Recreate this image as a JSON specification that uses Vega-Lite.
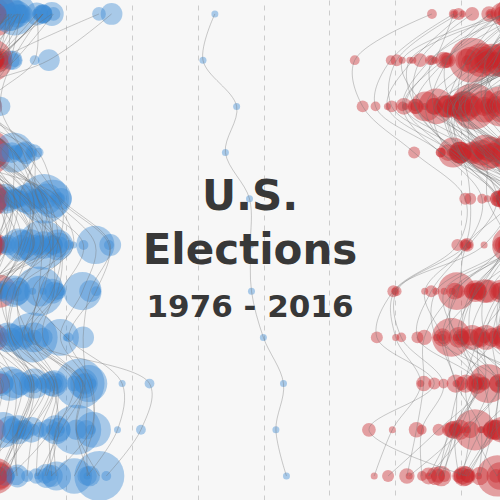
{
  "$schema": "https://vega.github.io/schema/vega-lite/v6.json",
  "width": 500,
  "height": 500,
  "autosize": "none",
  "padding": 0,
  "background": "#f7f7f7",
  "config": {"view": {"stroke": null}},
  "title": {
    "text": ["U.S.", "Elections"],
    "subtitle": "1976 - 2016",
    "orient": "top",
    "anchor": "middle",
    "frame": "group",
    "offset": -324,
    "font": "DejaVu Sans",
    "fontSize": 42,
    "fontWeight": "bold",
    "color": "#383838",
    "lineHeight": 54,
    "subtitleFont": "DejaVu Sans",
    "subtitleFontSize": 31,
    "subtitleFontWeight": "bold",
    "subtitleColor": "#383838",
    "subtitlePadding": 20
  },
  "data": {
    "values": [
      {"s":"AL","y":1976,"d":13.1,"ev":9},{"s":"AL","y":1980,"d":-1.3,"ev":9},{"s":"AL","y":1984,"d":-22.3,"ev":9},{"s":"AL","y":1988,"d":-19.3,"ev":9},{"s":"AL","y":1992,"d":-6.8,"ev":9},{"s":"AL","y":1996,"d":-7.0,"ev":9},{"s":"AL","y":2000,"d":-14.9,"ev":9},{"s":"AL","y":2004,"d":-25.6,"ev":9},{"s":"AL","y":2008,"d":-21.6,"ev":9},{"s":"AL","y":2012,"d":-22.2,"ev":9},{"s":"AL","y":2016,"d":-27.7,"ev":9},
      {"s":"AK","y":1976,"d":-22.2,"ev":3},{"s":"AK","y":1980,"d":-27.9,"ev":3},{"s":"AK","y":1984,"d":-36.8,"ev":3},{"s":"AK","y":1988,"d":-23.3,"ev":3},{"s":"AK","y":1992,"d":-9.2,"ev":3},{"s":"AK","y":1996,"d":-17.5,"ev":3},{"s":"AK","y":2000,"d":-31.0,"ev":3},{"s":"AK","y":2004,"d":-25.6,"ev":3},{"s":"AK","y":2008,"d":-21.5,"ev":3},{"s":"AK","y":2012,"d":-14.0,"ev":3},{"s":"AK","y":2016,"d":-14.7,"ev":3},
      {"s":"AZ","y":1976,"d":-16.6,"ev":6},{"s":"AZ","y":1980,"d":-32.4,"ev":6},{"s":"AZ","y":1984,"d":-33.9,"ev":7},{"s":"AZ","y":1988,"d":-21.2,"ev":7},{"s":"AZ","y":1992,"d":-2.0,"ev":8},{"s":"AZ","y":1996,"d":2.2,"ev":8},{"s":"AZ","y":2000,"d":-6.3,"ev":8},{"s":"AZ","y":2004,"d":-10.5,"ev":10},{"s":"AZ","y":2008,"d":-8.5,"ev":10},{"s":"AZ","y":2012,"d":-9.1,"ev":11},{"s":"AZ","y":2016,"d":-3.5,"ev":11},
      {"s":"AR","y":1976,"d":30.0,"ev":6},{"s":"AR","y":1980,"d":-0.6,"ev":6},{"s":"AR","y":1984,"d":-22.2,"ev":6},{"s":"AR","y":1988,"d":-14.2,"ev":6},{"s":"AR","y":1992,"d":17.7,"ev":6},{"s":"AR","y":1996,"d":16.9,"ev":6},{"s":"AR","y":2000,"d":-5.4,"ev":6},{"s":"AR","y":2004,"d":-9.8,"ev":6},{"s":"AR","y":2008,"d":-19.9,"ev":6},{"s":"AR","y":2012,"d":-23.7,"ev":6},{"s":"AR","y":2016,"d":-26.9,"ev":6},
      {"s":"CA","y":1976,"d":-1.8,"ev":45},{"s":"CA","y":1980,"d":-16.8,"ev":45},{"s":"CA","y":1984,"d":-16.2,"ev":47},{"s":"CA","y":1988,"d":-3.6,"ev":47},{"s":"CA","y":1992,"d":13.4,"ev":54},{"s":"CA","y":1996,"d":12.9,"ev":54},{"s":"CA","y":2000,"d":11.8,"ev":54},{"s":"CA","y":2004,"d":9.9,"ev":55},{"s":"CA","y":2008,"d":24.1,"ev":55},{"s":"CA","y":2012,"d":23.1,"ev":55},{"s":"CA","y":2016,"d":30.1,"ev":55},
      {"s":"CO","y":1976,"d":-11.5,"ev":7},{"s":"CO","y":1980,"d":-24.0,"ev":7},{"s":"CO","y":1984,"d":-28.3,"ev":8},{"s":"CO","y":1988,"d":-7.8,"ev":8},{"s":"CO","y":1992,"d":4.3,"ev":8},{"s":"CO","y":1996,"d":-1.4,"ev":8},{"s":"CO","y":2000,"d":-8.4,"ev":8},{"s":"CO","y":2004,"d":-4.7,"ev":9},{"s":"CO","y":2008,"d":9.0,"ev":9},{"s":"CO","y":2012,"d":5.4,"ev":9},{"s":"CO","y":2016,"d":4.9,"ev":9},
      {"s":"CT","y":1976,"d":-5.2,"ev":8},{"s":"CT","y":1980,"d":-9.6,"ev":8},{"s":"CT","y":1984,"d":-21.9,"ev":8},{"s":"CT","y":1988,"d":-5.1,"ev":8},{"s":"CT","y":1992,"d":6.4,"ev":8},{"s":"CT","y":1996,"d":18.1,"ev":8},{"s":"CT","y":2000,"d":17.5,"ev":8},{"s":"CT","y":2004,"d":10.4,"ev":7},{"s":"CT","y":2008,"d":22.4,"ev":7},{"s":"CT","y":2012,"d":17.3,"ev":7},{"s":"CT","y":2016,"d":13.6,"ev":7},
      {"s":"DE","y":1976,"d":5.4,"ev":3},{"s":"DE","y":1980,"d":-2.3,"ev":3},{"s":"DE","y":1984,"d":-19.9,"ev":3},{"s":"DE","y":1988,"d":-12.4,"ev":3},{"s":"DE","y":1992,"d":8.2,"ev":3},{"s":"DE","y":1996,"d":15.2,"ev":3},{"s":"DE","y":2000,"d":13.1,"ev":3},{"s":"DE","y":2004,"d":7.6,"ev":3},{"s":"DE","y":2008,"d":25.0,"ev":3},{"s":"DE","y":2012,"d":18.6,"ev":3},{"s":"DE","y":2016,"d":11.4,"ev":3},
      {"s":"DC","y":1976,"d":65.1,"ev":3},{"s":"DC","y":1980,"d":61.5,"ev":3},{"s":"DC","y":1984,"d":71.7,"ev":3},{"s":"DC","y":1988,"d":68.3,"ev":3},{"s":"DC","y":1992,"d":75.6,"ev":3},{"s":"DC","y":1996,"d":75.9,"ev":3},{"s":"DC","y":2000,"d":76.2,"ev":3},{"s":"DC","y":2004,"d":79.8,"ev":3},{"s":"DC","y":2008,"d":85.9,"ev":3},{"s":"DC","y":2012,"d":83.6,"ev":3},{"s":"DC","y":2016,"d":86.8,"ev":3},
      {"s":"FL","y":1976,"d":5.3,"ev":17},{"s":"FL","y":1980,"d":-17.0,"ev":17},{"s":"FL","y":1984,"d":-30.7,"ev":21},{"s":"FL","y":1988,"d":-22.4,"ev":21},{"s":"FL","y":1992,"d":-1.9,"ev":25},{"s":"FL","y":1996,"d":5.7,"ev":25},{"s":"FL","y":2000,"d":-0.01,"ev":25},{"s":"FL","y":2004,"d":-5.0,"ev":27},{"s":"FL","y":2008,"d":2.8,"ev":27},{"s":"FL","y":2012,"d":0.9,"ev":29},{"s":"FL","y":2016,"d":-1.2,"ev":29},
      {"s":"GA","y":1976,"d":33.8,"ev":12},{"s":"GA","y":1980,"d":14.8,"ev":12},{"s":"GA","y":1984,"d":-20.4,"ev":12},{"s":"GA","y":1988,"d":-20.2,"ev":12},{"s":"GA","y":1992,"d":0.6,"ev":13},{"s":"GA","y":1996,"d":-1.2,"ev":13},{"s":"GA","y":2000,"d":-11.7,"ev":13},{"s":"GA","y":2004,"d":-16.6,"ev":15},{"s":"GA","y":2008,"d":-5.2,"ev":15},{"s":"GA","y":2012,"d":-7.8,"ev":16},{"s":"GA","y":2016,"d":-5.1,"ev":16},
      {"s":"HI","y":1976,"d":2.5,"ev":4},{"s":"HI","y":1980,"d":1.9,"ev":4},{"s":"HI","y":1984,"d":-11.3,"ev":4},{"s":"HI","y":1988,"d":9.5,"ev":4},{"s":"HI","y":1992,"d":11.4,"ev":4},{"s":"HI","y":1996,"d":25.3,"ev":4},{"s":"HI","y":2000,"d":18.3,"ev":4},{"s":"HI","y":2004,"d":8.7,"ev":4},{"s":"HI","y":2008,"d":45.3,"ev":4},{"s":"HI","y":2012,"d":42.7,"ev":4},{"s":"HI","y":2016,"d":32.2,"ev":4},
      {"s":"ID","y":1976,"d":-22.2,"ev":4},{"s":"ID","y":1980,"d":-41.3,"ev":4},{"s":"ID","y":1984,"d":-45.9,"ev":4},{"s":"ID","y":1988,"d":-26.1,"ev":4},{"s":"ID","y":1992,"d":-13.6,"ev":4},{"s":"ID","y":1996,"d":-18.5,"ev":4},{"s":"ID","y":2000,"d":-39.5,"ev":4},{"s":"ID","y":2004,"d":-38.1,"ev":4},{"s":"ID","y":2008,"d":-25.3,"ev":4},{"s":"ID","y":2012,"d":-31.9,"ev":4},{"s":"ID","y":2016,"d":-31.8,"ev":4},
      {"s":"IL","y":1976,"d":-2.0,"ev":26},{"s":"IL","y":1980,"d":-7.9,"ev":26},{"s":"IL","y":1984,"d":-12.9,"ev":24},{"s":"IL","y":1988,"d":-2.1,"ev":24},{"s":"IL","y":1992,"d":14.2,"ev":22},{"s":"IL","y":1996,"d":17.5,"ev":22},{"s":"IL","y":2000,"d":12.0,"ev":22},{"s":"IL","y":2004,"d":10.3,"ev":21},{"s":"IL","y":2008,"d":25.1,"ev":21},{"s":"IL","y":2012,"d":16.9,"ev":20},{"s":"IL","y":2016,"d":17.1,"ev":20},
      {"s":"IN","y":1976,"d":-7.6,"ev":13},{"s":"IN","y":1980,"d":-18.3,"ev":13},{"s":"IN","y":1984,"d":-24.0,"ev":12},{"s":"IN","y":1988,"d":-20.2,"ev":12},{"s":"IN","y":1992,"d":-6.1,"ev":12},{"s":"IN","y":1996,"d":-5.6,"ev":12},{"s":"IN","y":2000,"d":-15.6,"ev":12},{"s":"IN","y":2004,"d":-20.7,"ev":11},{"s":"IN","y":2008,"d":1.0,"ev":11},{"s":"IN","y":2012,"d":-10.2,"ev":11},{"s":"IN","y":2016,"d":-19.2,"ev":11},
      {"s":"IA","y":1976,"d":-1.0,"ev":8},{"s":"IA","y":1980,"d":-12.7,"ev":8},{"s":"IA","y":1984,"d":-7.4,"ev":8},{"s":"IA","y":1988,"d":10.2,"ev":8},{"s":"IA","y":1992,"d":6.0,"ev":7},{"s":"IA","y":1996,"d":10.3,"ev":7},{"s":"IA","y":2000,"d":0.3,"ev":7},{"s":"IA","y":2004,"d":-0.7,"ev":7},{"s":"IA","y":2008,"d":9.5,"ev":7},{"s":"IA","y":2012,"d":5.8,"ev":6},{"s":"IA","y":2016,"d":-9.4,"ev":6},
      {"s":"KS","y":1976,"d":-7.6,"ev":7},{"s":"KS","y":1980,"d":-24.6,"ev":7},{"s":"KS","y":1984,"d":-33.6,"ev":7},{"s":"KS","y":1988,"d":-13.2,"ev":7},{"s":"KS","y":1992,"d":-5.1,"ev":6},{"s":"KS","y":1996,"d":-18.2,"ev":6},{"s":"KS","y":2000,"d":-20.8,"ev":6},{"s":"KS","y":2004,"d":-25.4,"ev":6},{"s":"KS","y":2008,"d":-14.9,"ev":6},{"s":"KS","y":2012,"d":-21.7,"ev":6},{"s":"KS","y":2016,"d":-20.6,"ev":6},
      {"s":"KY","y":1976,"d":7.2,"ev":9},{"s":"KY","y":1980,"d":-1.5,"ev":9},{"s":"KY","y":1984,"d":-20.7,"ev":9},{"s":"KY","y":1988,"d":-11.6,"ev":9},{"s":"KY","y":1992,"d":3.2,"ev":8},{"s":"KY","y":1996,"d":1.0,"ev":8},{"s":"KY","y":2000,"d":-15.1,"ev":8},{"s":"KY","y":2004,"d":-19.9,"ev":8},{"s":"KY","y":2008,"d":-16.2,"ev":8},{"s":"KY","y":2012,"d":-22.7,"ev":8},{"s":"KY","y":2016,"d":-29.8,"ev":8},
      {"s":"LA","y":1976,"d":5.8,"ev":10},{"s":"LA","y":1980,"d":-5.5,"ev":10},{"s":"LA","y":1984,"d":-22.6,"ev":10},{"s":"LA","y":1988,"d":-10.2,"ev":10},{"s":"LA","y":1992,"d":4.6,"ev":9},{"s":"LA","y":1996,"d":12.1,"ev":9},{"s":"LA","y":2000,"d":-7.7,"ev":9},{"s":"LA","y":2004,"d":-14.5,"ev":9},{"s":"LA","y":2008,"d":-18.6,"ev":9},{"s":"LA","y":2012,"d":-17.2,"ev":8},{"s":"LA","y":2016,"d":-19.6,"ev":8},
      {"s":"ME","y":1976,"d":-0.8,"ev":4},{"s":"ME","y":1980,"d":-3.4,"ev":4},{"s":"ME","y":1984,"d":-22.1,"ev":4},{"s":"ME","y":1988,"d":-11.5,"ev":4},{"s":"ME","y":1992,"d":8.3,"ev":4},{"s":"ME","y":1996,"d":20.9,"ev":4},{"s":"ME","y":2000,"d":5.1,"ev":4},{"s":"ME","y":2004,"d":9.0,"ev":4},{"s":"ME","y":2008,"d":17.3,"ev":4},{"s":"ME","y":2012,"d":15.3,"ev":4},{"s":"ME","y":2016,"d":3.0,"ev":4},
      {"s":"MD","y":1976,"d":6.1,"ev":10},{"s":"MD","y":1980,"d":3.0,"ev":10},{"s":"MD","y":1984,"d":-5.5,"ev":10},{"s":"MD","y":1988,"d":-2.9,"ev":10},{"s":"MD","y":1992,"d":14.2,"ev":10},{"s":"MD","y":1996,"d":16.0,"ev":10},{"s":"MD","y":2000,"d":16.4,"ev":10},{"s":"MD","y":2004,"d":13.0,"ev":10},{"s":"MD","y":2008,"d":25.4,"ev":10},{"s":"MD","y":2012,"d":26.1,"ev":10},{"s":"MD","y":2016,"d":26.4,"ev":10},
      {"s":"MA","y":1976,"d":15.7,"ev":14},{"s":"MA","y":1980,"d":-0.2,"ev":14},{"s":"MA","y":1984,"d":-2.8,"ev":13},{"s":"MA","y":1988,"d":7.8,"ev":13},{"s":"MA","y":1992,"d":18.5,"ev":12},{"s":"MA","y":1996,"d":33.4,"ev":12},{"s":"MA","y":2000,"d":27.3,"ev":12},{"s":"MA","y":2004,"d":25.2,"ev":12},{"s":"MA","y":2008,"d":25.8,"ev":12},{"s":"MA","y":2012,"d":23.1,"ev":11},{"s":"MA","y":2016,"d":27.2,"ev":11},
      {"s":"MI","y":1976,"d":-5.4,"ev":21},{"s":"MI","y":1980,"d":-6.5,"ev":21},{"s":"MI","y":1984,"d":-19.0,"ev":20},{"s":"MI","y":1988,"d":-7.9,"ev":20},{"s":"MI","y":1992,"d":7.4,"ev":18},{"s":"MI","y":1996,"d":13.2,"ev":18},{"s":"MI","y":2000,"d":5.1,"ev":18},{"s":"MI","y":2004,"d":3.4,"ev":17},{"s":"MI","y":2008,"d":16.4,"ev":17},{"s":"MI","y":2012,"d":9.5,"ev":16},{"s":"MI","y":2016,"d":-0.2,"ev":16},
      {"s":"MN","y":1976,"d":12.9,"ev":10},{"s":"MN","y":1980,"d":3.9,"ev":10},{"s":"MN","y":1984,"d":0.2,"ev":10},{"s":"MN","y":1988,"d":7.0,"ev":10},{"s":"MN","y":1992,"d":11.6,"ev":10},{"s":"MN","y":1996,"d":16.1,"ev":10},{"s":"MN","y":2000,"d":2.4,"ev":10},{"s":"MN","y":2004,"d":3.5,"ev":10},{"s":"MN","y":2008,"d":10.2,"ev":10},{"s":"MN","y":2012,"d":7.7,"ev":10},{"s":"MN","y":2016,"d":1.5,"ev":10},
      {"s":"MS","y":1976,"d":1.9,"ev":7},{"s":"MS","y":1980,"d":-1.3,"ev":7},{"s":"MS","y":1984,"d":-23.6,"ev":7},{"s":"MS","y":1988,"d":-20.8,"ev":7},{"s":"MS","y":1992,"d":-8.9,"ev":7},{"s":"MS","y":1996,"d":-5.1,"ev":7},{"s":"MS","y":2000,"d":-16.9,"ev":7},{"s":"MS","y":2004,"d":-19.7,"ev":6},{"s":"MS","y":2008,"d":-13.2,"ev":6},{"s":"MS","y":2012,"d":-11.5,"ev":6},{"s":"MS","y":2016,"d":-17.8,"ev":6},
      {"s":"MO","y":1976,"d":3.6,"ev":12},{"s":"MO","y":1980,"d":-6.8,"ev":12},{"s":"MO","y":1984,"d":-20.1,"ev":11},{"s":"MO","y":1988,"d":-4.0,"ev":11},{"s":"MO","y":1992,"d":10.2,"ev":11},{"s":"MO","y":1996,"d":6.3,"ev":11},{"s":"MO","y":2000,"d":-3.3,"ev":11},{"s":"MO","y":2004,"d":-7.2,"ev":11},{"s":"MO","y":2008,"d":-0.1,"ev":11},{"s":"MO","y":2012,"d":-9.4,"ev":10},{"s":"MO","y":2016,"d":-18.6,"ev":10},
      {"s":"MT","y":1976,"d":-7.4,"ev":4},{"s":"MT","y":1980,"d":-24.4,"ev":4},{"s":"MT","y":1984,"d":-22.3,"ev":4},{"s":"MT","y":1988,"d":-5.9,"ev":4},{"s":"MT","y":1992,"d":2.5,"ev":3},{"s":"MT","y":1996,"d":-2.9,"ev":3},{"s":"MT","y":2000,"d":-25.1,"ev":3},{"s":"MT","y":2004,"d":-20.5,"ev":3},{"s":"MT","y":2008,"d":-2.4,"ev":3},{"s":"MT","y":2012,"d":-13.7,"ev":3},{"s":"MT","y":2016,"d":-20.4,"ev":3},
      {"s":"NE","y":1976,"d":-20.7,"ev":5},{"s":"NE","y":1980,"d":-39.5,"ev":5},{"s":"NE","y":1984,"d":-41.0,"ev":5},{"s":"NE","y":1988,"d":-20.7,"ev":5},{"s":"NE","y":1992,"d":-17.2,"ev":5},{"s":"NE","y":1996,"d":-18.7,"ev":5},{"s":"NE","y":2000,"d":-29.0,"ev":5},{"s":"NE","y":2004,"d":-33.2,"ev":5},{"s":"NE","y":2008,"d":-14.9,"ev":5},{"s":"NE","y":2012,"d":-21.8,"ev":5},{"s":"NE","y":2016,"d":-25.1,"ev":5},
      {"s":"NV","y":1976,"d":-4.4,"ev":3},{"s":"NV","y":1980,"d":-35.5,"ev":3},{"s":"NV","y":1984,"d":-33.9,"ev":4},{"s":"NV","y":1988,"d":-20.9,"ev":4},{"s":"NV","y":1992,"d":2.6,"ev":4},{"s":"NV","y":1996,"d":1.0,"ev":4},{"s":"NV","y":2000,"d":-3.5,"ev":4},{"s":"NV","y":2004,"d":-2.6,"ev":5},{"s":"NV","y":2008,"d":12.5,"ev":5},{"s":"NV","y":2012,"d":6.7,"ev":6},{"s":"NV","y":2016,"d":2.4,"ev":6},
      {"s":"NH","y":1976,"d":-11.1,"ev":4},{"s":"NH","y":1980,"d":-29.4,"ev":4},{"s":"NH","y":1984,"d":-37.7,"ev":4},{"s":"NH","y":1988,"d":-26.2,"ev":4},{"s":"NH","y":1992,"d":1.2,"ev":4},{"s":"NH","y":1996,"d":9.9,"ev":4},{"s":"NH","y":2000,"d":-1.3,"ev":4},{"s":"NH","y":2004,"d":1.4,"ev":4},{"s":"NH","y":2008,"d":9.6,"ev":4},{"s":"NH","y":2012,"d":5.6,"ev":4},{"s":"NH","y":2016,"d":0.4,"ev":4},
      {"s":"NJ","y":1976,"d":-2.2,"ev":17},{"s":"NJ","y":1980,"d":-13.4,"ev":17},{"s":"NJ","y":1984,"d":-20.5,"ev":16},{"s":"NJ","y":1988,"d":-13.6,"ev":16},{"s":"NJ","y":1992,"d":2.4,"ev":15},{"s":"NJ","y":1996,"d":17.9,"ev":15},{"s":"NJ","y":2000,"d":15.8,"ev":15},{"s":"NJ","y":2004,"d":6.7,"ev":15},{"s":"NJ","y":2008,"d":15.5,"ev":15},{"s":"NJ","y":2012,"d":17.8,"ev":14},{"s":"NJ","y":2016,"d":14.1,"ev":14},
      {"s":"NM","y":1976,"d":-2.5,"ev":4},{"s":"NM","y":1980,"d":-18.2,"ev":4},{"s":"NM","y":1984,"d":-20.3,"ev":5},{"s":"NM","y":1988,"d":-5.0,"ev":5},{"s":"NM","y":1992,"d":8.6,"ev":5},{"s":"NM","y":1996,"d":7.3,"ev":5},{"s":"NM","y":2000,"d":0.1,"ev":5},{"s":"NM","y":2004,"d":-0.8,"ev":5},{"s":"NM","y":2008,"d":15.1,"ev":5},{"s":"NM","y":2012,"d":10.1,"ev":5},{"s":"NM","y":2016,"d":8.2,"ev":5},
      {"s":"NY","y":1976,"d":4.4,"ev":41},{"s":"NY","y":1980,"d":-2.7,"ev":41},{"s":"NY","y":1984,"d":-8.0,"ev":36},{"s":"NY","y":1988,"d":4.1,"ev":36},{"s":"NY","y":1992,"d":15.9,"ev":33},{"s":"NY","y":1996,"d":28.9,"ev":33},{"s":"NY","y":2000,"d":25.0,"ev":33},{"s":"NY","y":2004,"d":18.3,"ev":31},{"s":"NY","y":2008,"d":26.9,"ev":31},{"s":"NY","y":2012,"d":28.2,"ev":29},{"s":"NY","y":2016,"d":22.5,"ev":29},
      {"s":"NC","y":1976,"d":11.1,"ev":13},{"s":"NC","y":1980,"d":-2.1,"ev":13},{"s":"NC","y":1984,"d":-24.0,"ev":13},{"s":"NC","y":1988,"d":-16.3,"ev":13},{"s":"NC","y":1992,"d":-0.8,"ev":14},{"s":"NC","y":1996,"d":-4.7,"ev":14},{"s":"NC","y":2000,"d":-12.8,"ev":14},{"s":"NC","y":2004,"d":-12.4,"ev":15},{"s":"NC","y":2008,"d":0.3,"ev":15},{"s":"NC","y":2012,"d":-2.0,"ev":15},{"s":"NC","y":2016,"d":-3.7,"ev":15},
      {"s":"ND","y":1976,"d":-5.9,"ev":3},{"s":"ND","y":1980,"d":-37.8,"ev":3},{"s":"ND","y":1984,"d":-31.0,"ev":3},{"s":"ND","y":1988,"d":-13.1,"ev":3},{"s":"ND","y":1992,"d":-12.0,"ev":3},{"s":"ND","y":1996,"d":-6.8,"ev":3},{"s":"ND","y":2000,"d":-27.6,"ev":3},{"s":"ND","y":2004,"d":-27.4,"ev":3},{"s":"ND","y":2008,"d":-8.6,"ev":3},{"s":"ND","y":2012,"d":-19.6,"ev":3},{"s":"ND","y":2016,"d":-35.7,"ev":3},
      {"s":"OH","y":1976,"d":0.3,"ev":25},{"s":"OH","y":1980,"d":-10.6,"ev":25},{"s":"OH","y":1984,"d":-18.8,"ev":23},{"s":"OH","y":1988,"d":-10.9,"ev":23},{"s":"OH","y":1992,"d":1.8,"ev":21},{"s":"OH","y":1996,"d":6.4,"ev":21},{"s":"OH","y":2000,"d":-3.5,"ev":21},{"s":"OH","y":2004,"d":-2.1,"ev":20},{"s":"OH","y":2008,"d":4.6,"ev":20},{"s":"OH","y":2012,"d":3.0,"ev":18},{"s":"OH","y":2016,"d":-8.1,"ev":18},
      {"s":"OK","y":1976,"d":-1.2,"ev":8},{"s":"OK","y":1980,"d":-25.3,"ev":8},{"s":"OK","y":1984,"d":-37.3,"ev":8},{"s":"OK","y":1988,"d":-16.6,"ev":8},{"s":"OK","y":1992,"d":-8.6,"ev":8},{"s":"OK","y":1996,"d":-7.8,"ev":8},{"s":"OK","y":2000,"d":-21.9,"ev":8},{"s":"OK","y":2004,"d":-31.1,"ev":7},{"s":"OK","y":2008,"d":-31.3,"ev":7},{"s":"OK","y":2012,"d":-33.5,"ev":7},{"s":"OK","y":2016,"d":-36.4,"ev":7},
      {"s":"OR","y":1976,"d":-0.2,"ev":6},{"s":"OR","y":1980,"d":-9.7,"ev":6},{"s":"OR","y":1984,"d":-12.2,"ev":7},{"s":"OR","y":1988,"d":4.7,"ev":7},{"s":"OR","y":1992,"d":10.1,"ev":7},{"s":"OR","y":1996,"d":8.1,"ev":7},{"s":"OR","y":2000,"d":0.4,"ev":7},{"s":"OR","y":2004,"d":4.2,"ev":7},{"s":"OR","y":2008,"d":16.4,"ev":7},{"s":"OR","y":2012,"d":12.1,"ev":7},{"s":"OR","y":2016,"d":11.0,"ev":7},
      {"s":"PA","y":1976,"d":2.7,"ev":27},{"s":"PA","y":1980,"d":-7.1,"ev":27},{"s":"PA","y":1984,"d":-7.3,"ev":25},{"s":"PA","y":1988,"d":-2.3,"ev":25},{"s":"PA","y":1992,"d":9.0,"ev":23},{"s":"PA","y":1996,"d":9.2,"ev":23},{"s":"PA","y":2000,"d":4.2,"ev":23},{"s":"PA","y":2004,"d":2.5,"ev":21},{"s":"PA","y":2008,"d":10.3,"ev":21},{"s":"PA","y":2012,"d":5.4,"ev":20},{"s":"PA","y":2016,"d":-0.7,"ev":20},
      {"s":"RI","y":1976,"d":11.1,"ev":4},{"s":"RI","y":1980,"d":10.5,"ev":4},{"s":"RI","y":1984,"d":-3.7,"ev":4},{"s":"RI","y":1988,"d":11.7,"ev":4},{"s":"RI","y":1992,"d":18.0,"ev":4},{"s":"RI","y":1996,"d":33.0,"ev":4},{"s":"RI","y":2000,"d":29.1,"ev":4},{"s":"RI","y":2004,"d":20.8,"ev":4},{"s":"RI","y":2008,"d":27.8,"ev":4},{"s":"RI","y":2012,"d":27.5,"ev":4},{"s":"RI","y":2016,"d":15.5,"ev":4},
      {"s":"SC","y":1976,"d":13.0,"ev":8},{"s":"SC","y":1980,"d":-1.5,"ev":8},{"s":"SC","y":1984,"d":-28.0,"ev":8},{"s":"SC","y":1988,"d":-23.9,"ev":8},{"s":"SC","y":1992,"d":-8.1,"ev":8},{"s":"SC","y":1996,"d":-6.0,"ev":8},{"s":"SC","y":2000,"d":-15.9,"ev":8},{"s":"SC","y":2004,"d":-17.1,"ev":8},{"s":"SC","y":2008,"d":-9.0,"ev":8},{"s":"SC","y":2012,"d":-10.5,"ev":9},{"s":"SC","y":2016,"d":-14.3,"ev":9},
      {"s":"SD","y":1976,"d":-1.5,"ev":4},{"s":"SD","y":1980,"d":-28.8,"ev":4},{"s":"SD","y":1984,"d":-26.5,"ev":3},{"s":"SD","y":1988,"d":-6.3,"ev":3},{"s":"SD","y":1992,"d":-3.5,"ev":3},{"s":"SD","y":1996,"d":-3.5,"ev":3},{"s":"SD","y":2000,"d":-22.7,"ev":3},{"s":"SD","y":2004,"d":-21.5,"ev":3},{"s":"SD","y":2008,"d":-8.4,"ev":3},{"s":"SD","y":2012,"d":-18.0,"ev":3},{"s":"SD","y":2016,"d":-29.8,"ev":3},
      {"s":"TN","y":1976,"d":13.0,"ev":10},{"s":"TN","y":1980,"d":-0.3,"ev":10},{"s":"TN","y":1984,"d":-16.3,"ev":11},{"s":"TN","y":1988,"d":-16.3,"ev":11},{"s":"TN","y":1992,"d":4.7,"ev":11},{"s":"TN","y":1996,"d":2.4,"ev":11},{"s":"TN","y":2000,"d":-3.9,"ev":11},{"s":"TN","y":2004,"d":-14.3,"ev":11},{"s":"TN","y":2008,"d":-15.1,"ev":11},{"s":"TN","y":2012,"d":-20.4,"ev":11},{"s":"TN","y":2016,"d":-26.0,"ev":11},
      {"s":"TX","y":1976,"d":3.2,"ev":26},{"s":"TX","y":1980,"d":-13.9,"ev":26},{"s":"TX","y":1984,"d":-27.5,"ev":29},{"s":"TX","y":1988,"d":-12.6,"ev":29},{"s":"TX","y":1992,"d":-3.5,"ev":32},{"s":"TX","y":1996,"d":-4.9,"ev":32},{"s":"TX","y":2000,"d":-21.3,"ev":32},{"s":"TX","y":2004,"d":-22.9,"ev":34},{"s":"TX","y":2008,"d":-11.8,"ev":34},{"s":"TX","y":2012,"d":-15.8,"ev":38},{"s":"TX","y":2016,"d":-9.0,"ev":38},
      {"s":"UT","y":1976,"d":-28.8,"ev":4},{"s":"UT","y":1980,"d":-52.2,"ev":4},{"s":"UT","y":1984,"d":-49.8,"ev":5},{"s":"UT","y":1988,"d":-34.2,"ev":5},{"s":"UT","y":1992,"d":-18.7,"ev":5},{"s":"UT","y":1996,"d":-21.1,"ev":5},{"s":"UT","y":2000,"d":-40.5,"ev":5},{"s":"UT","y":2004,"d":-45.5,"ev":5},{"s":"UT","y":2008,"d":-28.1,"ev":5},{"s":"UT","y":2012,"d":-47.9,"ev":6},{"s":"UT","y":2016,"d":-18.1,"ev":6},
      {"s":"VT","y":1976,"d":-11.2,"ev":3},{"s":"VT","y":1980,"d":-6.0,"ev":3},{"s":"VT","y":1984,"d":-17.1,"ev":3},{"s":"VT","y":1988,"d":-3.5,"ev":3},{"s":"VT","y":1992,"d":15.7,"ev":3},{"s":"VT","y":1996,"d":22.3,"ev":3},{"s":"VT","y":2000,"d":9.9,"ev":3},{"s":"VT","y":2004,"d":20.1,"ev":3},{"s":"VT","y":2008,"d":37.0,"ev":3},{"s":"VT","y":2012,"d":35.6,"ev":3},{"s":"VT","y":2016,"d":26.4,"ev":3},
      {"s":"VA","y":1976,"d":-1.3,"ev":12},{"s":"VA","y":1980,"d":-12.7,"ev":12},{"s":"VA","y":1984,"d":-25.2,"ev":12},{"s":"VA","y":1988,"d":-20.5,"ev":12},{"s":"VA","y":1992,"d":-4.4,"ev":13},{"s":"VA","y":1996,"d":-2.0,"ev":13},{"s":"VA","y":2000,"d":-8.0,"ev":13},{"s":"VA","y":2004,"d":-8.2,"ev":13},{"s":"VA","y":2008,"d":6.3,"ev":13},{"s":"VA","y":2012,"d":3.9,"ev":13},{"s":"VA","y":2016,"d":5.3,"ev":13},
      {"s":"WA","y":1976,"d":-3.9,"ev":9},{"s":"WA","y":1980,"d":-12.3,"ev":9},{"s":"WA","y":1984,"d":-13.0,"ev":10},{"s":"WA","y":1988,"d":1.6,"ev":10},{"s":"WA","y":1992,"d":11.4,"ev":11},{"s":"WA","y":1996,"d":12.5,"ev":11},{"s":"WA","y":2000,"d":5.6,"ev":11},{"s":"WA","y":2004,"d":7.2,"ev":11},{"s":"WA","y":2008,"d":17.1,"ev":11},{"s":"WA","y":2012,"d":14.9,"ev":12},{"s":"WA","y":2016,"d":15.7,"ev":12},
      {"s":"WV","y":1976,"d":16.2,"ev":6},{"s":"WV","y":1980,"d":4.5,"ev":6},{"s":"WV","y":1984,"d":-10.5,"ev":6},{"s":"WV","y":1988,"d":4.7,"ev":6},{"s":"WV","y":1992,"d":13.0,"ev":5},{"s":"WV","y":1996,"d":14.7,"ev":5},{"s":"WV","y":2000,"d":-6.3,"ev":5},{"s":"WV","y":2004,"d":-12.9,"ev":5},{"s":"WV","y":2008,"d":-13.1,"ev":5},{"s":"WV","y":2012,"d":-26.8,"ev":5},{"s":"WV","y":2016,"d":-42.1,"ev":5},
      {"s":"WI","y":1976,"d":1.7,"ev":11},{"s":"WI","y":1980,"d":-4.7,"ev":11},{"s":"WI","y":1984,"d":-9.2,"ev":11},{"s":"WI","y":1988,"d":3.6,"ev":11},{"s":"WI","y":1992,"d":4.4,"ev":11},{"s":"WI","y":1996,"d":10.3,"ev":11},{"s":"WI","y":2000,"d":0.2,"ev":11},{"s":"WI","y":2004,"d":0.4,"ev":10},{"s":"WI","y":2008,"d":13.9,"ev":10},{"s":"WI","y":2012,"d":6.9,"ev":10},{"s":"WI","y":2016,"d":-0.8,"ev":10},
      {"s":"WY","y":1976,"d":-19.5,"ev":3},{"s":"WY","y":1980,"d":-34.6,"ev":3},{"s":"WY","y":1984,"d":-42.3,"ev":3},{"s":"WY","y":1988,"d":-22.5,"ev":3},{"s":"WY","y":1992,"d":-5.6,"ev":3},{"s":"WY","y":1996,"d":-13.0,"ev":3},{"s":"WY","y":2000,"d":-40.1,"ev":3},{"s":"WY","y":2004,"d":-39.8,"ev":3},{"s":"WY","y":2008,"d":-32.2,"ev":3},{"s":"WY","y":2012,"d":-40.8,"ev":3},{"s":"WY","y":2016,"d":-46.3,"ev":3}
    ]
  },
  "encoding": {
    "y": {"field": "y", "type": "quantitative", "scale": {"domain": [1974.79, 2018.08], "reverse": true, "nice": false, "zero": false}, "axis": null}
  },
  "layer": [
    {
      "mark": {"type": "circle", "opacity": 0.42, "clip": true},
      "encoding": {
        "x": {"field": "d", "type": "quantitative", "scale": {"domain": [0, 151.5], "nice": false, "zero": false},
          "axis": {"values": [20, 40, 60, 80], "grid": true, "gridColor": "#cccccc", "gridDash": [5, 5], "gridWidth": 1, "labels": false, "ticks": false, "domain": false, "title": null}},
        "size": {"field": "ev", "type": "quantitative", "scale": {"domain": [3, 55], "range": [49, 2500], "zero": false}, "legend": null},
        "color": {"condition": {"test": "datum.d > 0", "value": "#3b8bd4"}, "value": "#c9252b"}
      }
    },
    {
      "mark": {"type": "circle", "opacity": 0.42, "clip": true},
      "encoding": {
        "x": {"field": "d", "type": "quantitative", "scale": {"domain": [-159.7, -8.18], "nice": false, "zero": false},
          "axis": {"values": [-60, -40, -20], "grid": true, "gridColor": "#cccccc", "gridDash": [5, 5], "gridWidth": 1, "labels": false, "ticks": false, "domain": false, "title": null}},
        "size": {"field": "ev", "type": "quantitative", "scale": {"domain": [3, 55], "range": [49, 2500], "zero": false}, "legend": null},
        "color": {"condition": {"test": "datum.d > 0", "value": "#3b8bd4"}, "value": "#c9252b"}
      }
    },
    {
      "mark": {"type": "line", "interpolate": "catmull-rom", "stroke": "#6e6e6e", "strokeWidth": 0.8, "opacity": 0.45, "clip": true},
      "encoding": {
        "x": {"field": "d", "type": "quantitative", "scale": {"domain": [0, 151.5], "nice": false, "zero": false}, "axis": null},
        "detail": {"field": "s"},
        "order": {"field": "y"}
      }
    },
    {
      "mark": {"type": "line", "interpolate": "catmull-rom", "stroke": "#6e6e6e", "strokeWidth": 0.8, "opacity": 0.45, "clip": true},
      "encoding": {
        "x": {"field": "d", "type": "quantitative", "scale": {"domain": [-159.7, -8.18], "nice": false, "zero": false}, "axis": null},
        "detail": {"field": "s"},
        "order": {"field": "y"}
      }
    }
  ],
  "resolve": {"scale": {"x": "independent", "size": "shared"}, "axis": {"x": "independent"}}
}
